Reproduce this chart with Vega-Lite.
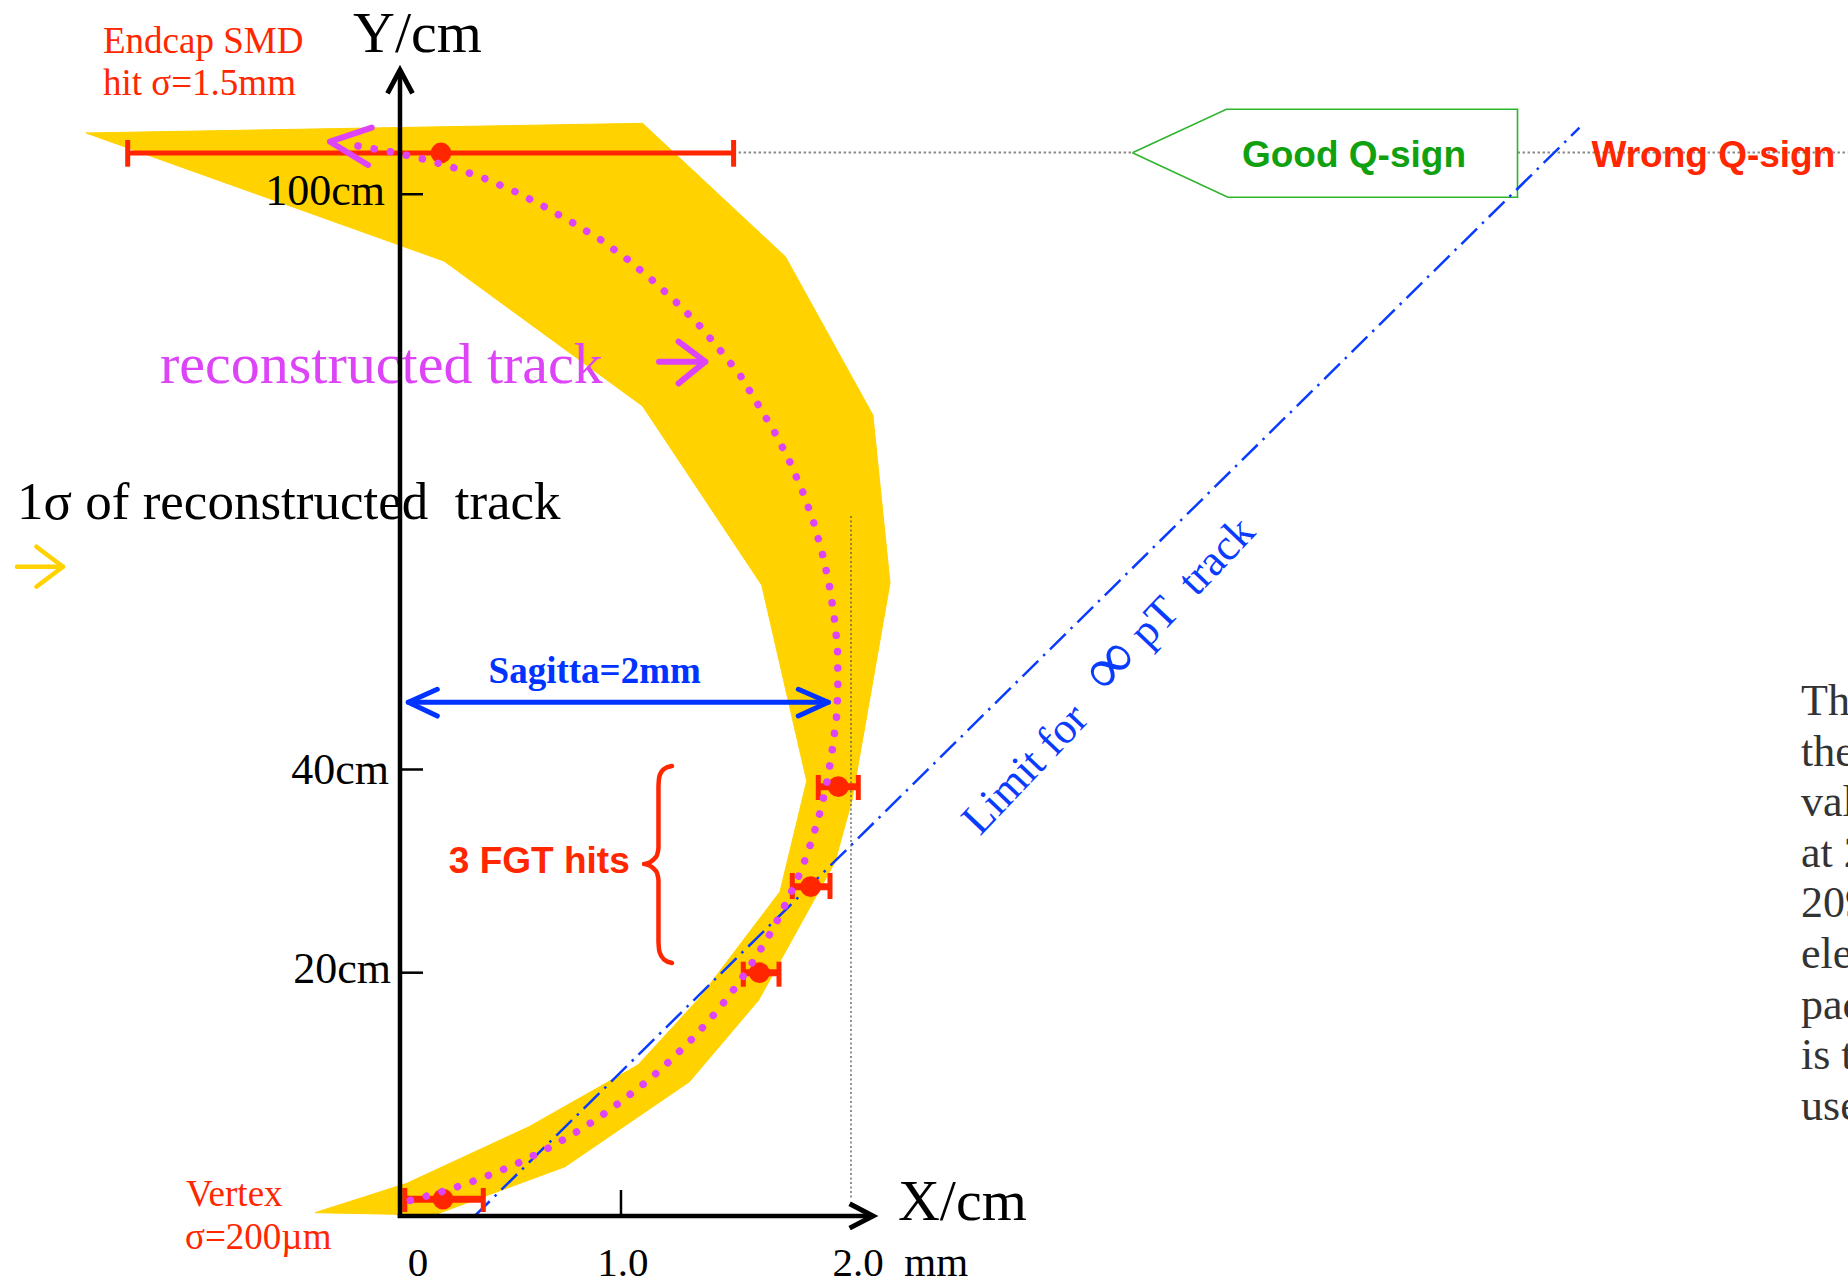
{
"$schema": "https://vega.github.io/schema/vega-lite/v6.json",
"width": 1848, "height": 1282,
"autosize": {"type": "none"},
"padding": 0,
"background": "white",
"config": {"view": {"stroke": null}},
"datasets": {
"band": [
{"i":1,"x":-1.3925,"y":102.67},{"i":2,"x":1.0754,"y":103.62},{"i":3,"x":1.7091,"y":90.50},{"i":4,"x":2.0971,"y":74.92},
{"i":5,"x":2.1730,"y":58.40},{"i":6,"x":2.0044,"y":37.05},{"i":7,"x":1.9291,"y":30.95},{"i":8,"x":1.5907,"y":17.37},
{"i":9,"x":1.2838,"y":9.34},{"i":10,"x":0.7317,"y":0.97},{"i":11,"x":0.1508,"y":-3.78},{"i":12,"x":-0.3769,"y":-3.55},
{"i":13,"x":0.0302,"y":-0.66},{"i":14,"x":0.5721,"y":4.91},{"i":15,"x":1.0554,"y":10.98},{"i":16,"x":1.3277,"y":17.57},
{"i":17,"x":1.6851,"y":28.03},{"i":18,"x":1.8036,"y":38.92},{"i":19,"x":1.6040,"y":58.20},{"i":20,"x":1.0754,"y":75.81},
{"i":21,"x":0.1951,"y":90.07},{"i":22,"x":-1.3925,"y":102.67}
],
"track": [
{"i":1,"x":-0.1863,"y":101.39},{"i":2,"x":-0.0355,"y":100.80},{"i":3,"x":0.1020,"y":100.11},{"i":4,"x":0.2439,"y":99.22},
{"i":5,"x":0.3814,"y":98.14},{"i":6,"x":0.5144,"y":96.86},{"i":7,"x":0.6430,"y":95.39},{"i":8,"x":0.7672,"y":93.81},
{"i":9,"x":0.8914,"y":92.14},{"i":10,"x":1.0067,"y":90.27},{"i":11,"x":1.1175,"y":88.21},{"i":12,"x":1.2240,"y":86.04},
{"i":13,"x":1.3259,"y":83.78},{"i":14,"x":1.4191,"y":81.32},{"i":15,"x":1.5078,"y":78.86},{"i":16,"x":1.5832,"y":76.11},
{"i":17,"x":1.6585,"y":73.35},{"i":18,"x":1.7251,"y":70.50},{"i":19,"x":1.7827,"y":67.55},{"i":20,"x":1.8315,"y":64.59},
{"i":21,"x":1.8714,"y":61.45},{"i":22,"x":1.9024,"y":58.40},{"i":23,"x":1.9246,"y":55.25},{"i":24,"x":1.9401,"y":52.10},
{"i":25,"x":1.9424,"y":48.85},{"i":26,"x":1.9379,"y":45.61},{"i":27,"x":1.9202,"y":42.46},{"i":28,"x":1.8980,"y":39.31},
{"i":29,"x":1.8670,"y":36.16},{"i":30,"x":1.8271,"y":33.11},{"i":31,"x":1.7783,"y":30.06},{"i":32,"x":1.7162,"y":27.11},
{"i":33,"x":1.6541,"y":24.36},{"i":34,"x":1.5787,"y":21.60},{"i":35,"x":1.4989,"y":18.95},{"i":36,"x":1.4102,"y":16.39},
{"i":37,"x":1.3126,"y":13.93},{"i":38,"x":1.2106,"y":11.67},{"i":39,"x":1.1087,"y":9.60},{"i":40,"x":0.9889,"y":7.54},
{"i":41,"x":0.8736,"y":5.67},{"i":42,"x":0.7539,"y":3.99},{"i":43,"x":0.6253,"y":2.42},{"i":44,"x":0.4967,"y":1.04},
{"i":45,"x":0.3636,"y":-0.14},{"i":46,"x":0.2262,"y":-1.22},{"i":47,"x":0.0887,"y":-2.11},{"i":48,"x":0.0177,"y":-2.50}
],
"paths": [
{"g":"yaxis","i":1,"x":0,"y":-4.07},{"g":"yaxis","i":2,"x":0,"y":108.6},
{"g":"yhead","i":1,"x":-0.0554,"y":106.57},{"g":"yhead","i":2,"x":0,"y":108.87},{"g":"yhead","i":3,"x":0.0554,"y":106.57},
{"g":"xaxis","i":1,"x":-0.01,"y":-3.876},{"g":"xaxis","i":2,"x":2.09,"y":-3.876},
{"g":"xhead","i":1,"x":1.9938,"y":-2.68},{"g":"xhead","i":2,"x":2.0976,"y":-3.876},{"g":"xhead","i":3,"x":1.9938,"y":-5.07},
{"g":"t100","i":1,"x":0,"y":96.64},{"g":"t100","i":2,"x":0.102,"y":96.64},
{"g":"t40","i":1,"x":0,"y":40.05},{"g":"t40","i":2,"x":0.102,"y":40.05},
{"g":"t20","i":1,"x":0,"y":20.06},{"g":"t20","i":2,"x":0.102,"y":20.06},
{"g":"t1","i":1,"x":0.98,"y":-1.318},{"g":"t1","i":2,"x":0.98,"y":-3.876},
{"g":"chev","i":1,"x":-0.1255,"y":103.19},{"g":"chev","i":2,"x":-0.3104,"y":101.81},{"g":"chev","i":3,"x":-0.1419,"y":99.52},
{"g":"sag","i":1,"x":0.0368,"y":46.66},{"g":"sag","i":2,"x":1.8993,"y":46.66},
{"g":"sagL","i":1,"x":0.1654,"y":47.94},{"g":"sagL","i":2,"x":0.0368,"y":46.66},{"g":"sagL","i":3,"x":0.1654,"y":45.31},
{"g":"sagR","i":1,"x":1.7663,"y":47.94},{"g":"sagR","i":2,"x":1.8993,"y":46.66},{"g":"sagR","i":3,"x":1.7663,"y":45.31},
{"g":"brace","i":1,"x":1.2062,"y":40.39},{"g":"brace","i":2,"x":1.1707,"y":40.10},{"g":"brace","i":3,"x":1.1508,"y":39.41},
{"g":"brace","i":4,"x":1.1463,"y":38.43},{"g":"brace","i":5,"x":1.1463,"y":32.33},{"g":"brace","i":6,"x":1.1353,"y":31.44},
{"g":"brace","i":7,"x":1.0820,"y":30.75},{"g":"brace","i":8,"x":1.1353,"y":30.06},{"g":"brace","i":9,"x":1.1463,"y":29.18},
{"g":"brace","i":10,"x":1.1463,"y":23.08},{"g":"brace","i":11,"x":1.1508,"y":22.10},{"g":"brace","i":12,"x":1.1707,"y":21.36},
{"g":"brace","i":13,"x":1.2062,"y":21.01},
{"g":"yarrS","i":1,"x":-1.6985,"y":60.00},{"g":"yarrS","i":2,"x":-1.4945,"y":60.00},
{"g":"yarrH","i":1,"x":-1.6124,"y":61.97},{"g":"yarrH","i":2,"x":-1.4945,"y":60.00},{"g":"yarrH","i":3,"x":-1.6124,"y":58.03},
{"g":"marrS","i":1,"x":1.1486,"y":80.17},{"g":"marrS","i":2,"x":1.3539,"y":80.17},
{"g":"marrH","i":1,"x":1.2355,"y":82.14},{"g":"marrH","i":2,"x":1.3539,"y":80.17},{"g":"marrH","i":3,"x":1.2355,"y":78.04},
{"g":"vdot","i":1,"x":2.0,"y":64.99},{"g":"vdot","i":2,"x":2.0,"y":-2.30},
{"g":"hdot1","i":1,"x":1.4794,"y":100.75},{"g":"hdot1","i":2,"x":3.2479,"y":100.75},
{"g":"hdot2","i":1,"x":4.9557,"y":100.75},{"g":"hdot2","i":2,"x":6.42,"y":100.75},
{"g":"limit","i":1,"x":0.3282,"y":-3.945},{"g":"limit","i":2,"x":5.2306,"y":103.19},
{"g":"box","i":1,"x":3.2479,"y":100.73},{"g":"box","i":2,"x":3.6648,"y":105.00},{"g":"box","i":3,"x":4.9557,"y":105.00},
{"g":"box","i":4,"x":4.9557,"y":96.34},{"g":"box","i":5,"x":3.6714,"y":96.34},{"g":"box","i":6,"x":3.2479,"y":100.73}
],
"hits": [
{"h":"smd","x":0.1818,"y":100.70,"xlo":-1.2075,"xhi":1.4794,"ylo":99.35,"yhi":101.98},
{"h":"fgt1","x":1.9437,"y":38.36,"xlo":1.8550,"xhi":2.0324,"ylo":37.05,"yhi":39.51},
{"h":"fgt2","x":1.8213,"y":28.52,"xlo":1.7397,"xhi":1.9069,"ylo":27.31,"yhi":29.87},
{"h":"fgt3","x":1.5934,"y":20.06,"xlo":1.5224,"xhi":1.6807,"ylo":18.68,"yhi":21.14},
{"h":"vtx","x":0.1907,"y":-2.22,"xlo":0.0213,"xhi":0.3694,"ylo":-3.483,"yhi":-1.121}
],
"labels": [
{"k":"title","t":"Y/cm","x":-0.2084,"y":110.67},
{"k":"title","t":"X/cm","x":2.2084,"y":-4.27},
{"k":"red","t":"Endcap SMD","x":-1.3171,"y":110.54},
{"k":"red","t":"hit σ=1.5mm","x":-1.3171,"y":106.41},
{"k":"red","t":"Vertex","x":-0.949,"y":-2.892},
{"k":"red","t":"σ=200µm","x":-0.9534,"y":-7.152},
{"k":"ytick","t":"100cm","x":-0.0665,"y":95.58},
{"k":"ytick","t":"40cm","x":-0.0488,"y":38.62},
{"k":"ytick","t":"20cm","x":-0.0399,"y":19.02},
{"k":"xtickc","t":"0","x":0.0798,"y":-9.75},
{"k":"xtickc","t":"1.0","x":0.9889,"y":-9.75},
{"k":"xtickl","t":"2.0\u00a0\u00a0mm","x":1.9184,"y":-9.75},
{"k":"recon","t":"reconstructed track","x":-1.0643,"y":78.10},
{"k":"sigma","t":"1σ of reconstructed\u00a0\u00a0track","x":-1.6985,"y":64.69},
{"k":"sag","t":"Sagitta=2mm","x":0.8634,"y":48.59},
{"k":"fgt","t":"3 FGT hits","x":0.6177,"y":29.84},
{"k":"good","t":"Good Q-sign","x":4.2306,"y":99.35},
{"k":"wrong","t":"Wrong Q-sign","x":5.2834,"y":99.35},
{"k":"limit","t":"Limit for","x":2.5721,"y":33.44},
{"k":"inf","t":"∞","x":3.1500,"y":50.3},
{"k":"limit","t":"pT\u00a0\u00a0track","x":3.3150,"y":51.9},
{"k":"para","t":"Th","x":6.2129,"y":45.41},
{"k":"para","t":"the","x":6.2129,"y":40.43},
{"k":"para","t":"val","x":6.2129,"y":35.46},
{"k":"para","t":"at 2","x":6.2129,"y":30.48},
{"k":"para","t":"209","x":6.2129,"y":25.50},
{"k":"para","t":"ele","x":6.2129,"y":20.52},
{"k":"para","t":"pac","x":6.2129,"y":15.54},
{"k":"para","t":"is t","x":6.2129,"y":10.57},
{"k":"para","t":"use","x":6.2129,"y":5.59}
]
},
"encoding": {
"x": {"field": "x", "type": "quantitative", "scale": {"domain": [-1.7738, 6.4213], "nice": false, "zero": false}, "axis": null},
"y": {"field": "y", "type": "quantitative", "scale": {"domain": [-10.369, 115.75], "nice": false, "zero": false}, "axis": null}
},
"layer": [
{"data": {"name": "band"}, "mark": {"type": "line", "fill": "#FFD200", "stroke": "#FFD200", "strokeWidth": 1}, "encoding": {"order": {"field": "i"}}},
{"data": {"name": "paths"}, "transform": [{"filter": "datum.g == 'vdot'"}], "mark": {"type": "line", "stroke": "#555555", "strokeWidth": 1.3, "strokeDash": [2, 2.5]}, "encoding": {"order": {"field": "i"}, "detail": {"field": "g"}}},
{"data": {"name": "paths"}, "transform": [{"filter": "datum.g == 'hdot1' || datum.g == 'hdot2'"}], "mark": {"type": "line", "stroke": "#8a8a8a", "strokeWidth": 2, "strokeDash": [2.5, 2.5]}, "encoding": {"order": {"field": "i"}, "detail": {"field": "g"}}},
{"data": {"name": "paths"}, "transform": [{"filter": "datum.g == 'box'"}], "mark": {"type": "line", "fill": "white", "stroke": "#2DB52D", "strokeWidth": 1.6}, "encoding": {"order": {"field": "i"}}},
{"data": {"name": "paths"}, "transform": [{"filter": "datum.g == 'limit'"}], "mark": {"type": "line", "stroke": "#0A3CFF", "strokeWidth": 2.5, "strokeDash": [22, 7, 2.5, 7]}, "encoding": {"order": {"field": "i"}}},
{"data": {"name": "labels"}, "transform": [{"filter": "datum.k == 'recon'"}], "mark": {"type": "text", "align": "left", "baseline": "alphabetic", "font": "Liberation Serif", "fontSize": 58, "color": "#DD44F7"}, "encoding": {"text": {"field": "t"}}},
{"data": {"name": "labels"}, "transform": [{"filter": "datum.k == 'sigma'"}], "mark": {"type": "text", "align": "left", "baseline": "alphabetic", "font": "Liberation Serif", "fontSize": 53, "color": "black"}, "encoding": {"text": {"field": "t"}}},
{"data": {"name": "hits"}, "transform": [{"filter": "datum.h == 'smd'"}], "mark": {"type": "rule", "color": "#FF2600", "strokeWidth": 5}, "encoding": {"x": {"field": "xlo", "type": "quantitative", "scale": {"domain": [-1.7738, 6.4213], "nice": false, "zero": false}, "axis": null}, "x2": {"field": "xhi"}}},
{"data": {"name": "hits"}, "transform": [{"filter": "datum.h != 'smd'"}], "mark": {"type": "rule", "color": "#FF2600", "strokeWidth": 7}, "encoding": {"x": {"field": "xlo", "type": "quantitative", "scale": {"domain": [-1.7738, 6.4213], "nice": false, "zero": false}, "axis": null}, "x2": {"field": "xhi"}}},
{"data": {"name": "hits"}, "mark": {"type": "rule", "color": "#FF2600", "strokeWidth": 5}, "encoding": {"x": {"field": "xlo", "type": "quantitative", "scale": {"domain": [-1.7738, 6.4213], "nice": false, "zero": false}, "axis": null}, "y": {"field": "ylo", "type": "quantitative", "scale": {"domain": [-10.369, 115.75], "nice": false, "zero": false}, "axis": null}, "y2": {"field": "yhi"}}},
{"data": {"name": "hits"}, "mark": {"type": "rule", "color": "#FF2600", "strokeWidth": 5}, "encoding": {"x": {"field": "xhi", "type": "quantitative", "scale": {"domain": [-1.7738, 6.4213], "nice": false, "zero": false}, "axis": null}, "y": {"field": "ylo", "type": "quantitative", "scale": {"domain": [-10.369, 115.75], "nice": false, "zero": false}, "axis": null}, "y2": {"field": "yhi"}}},
{"data": {"name": "hits"}, "mark": {"type": "point", "filled": true, "shape": "circle", "size": 430, "color": "#FF2600", "opacity": 1}},
{"data": {"name": "track"}, "mark": {"type": "line", "stroke": "#DD44F7", "strokeWidth": 7.5, "strokeCap": "round", "strokeDash": [0.1, 16.3]}, "encoding": {"order": {"field": "i"}}},
{"data": {"name": "paths"}, "transform": [{"filter": "datum.g == 'chev' || datum.g == 'marrS' || datum.g == 'marrH'"}], "mark": {"type": "line", "stroke": "#DD44F7", "strokeWidth": 6, "strokeCap": "round", "strokeJoin": "round"}, "encoding": {"order": {"field": "i"}, "detail": {"field": "g"}}},
{"data": {"name": "paths"}, "transform": [{"filter": "datum.g == 'yarrS' || datum.g == 'yarrH'"}], "mark": {"type": "line", "stroke": "#FFD200", "strokeWidth": 4.5, "strokeCap": "round", "strokeJoin": "round"}, "encoding": {"order": {"field": "i"}, "detail": {"field": "g"}}},
{"data": {"name": "paths"}, "transform": [{"filter": "datum.g == 'sag' || datum.g == 'sagL' || datum.g == 'sagR'"}], "mark": {"type": "line", "stroke": "#0033FF", "strokeWidth": 5, "strokeCap": "round", "strokeJoin": "round"}, "encoding": {"order": {"field": "i"}, "detail": {"field": "g"}}},
{"data": {"name": "paths"}, "transform": [{"filter": "datum.g == 'brace'"}], "mark": {"type": "line", "stroke": "#FF2600", "strokeWidth": 4.5, "strokeCap": "round", "strokeJoin": "round", "interpolate": "monotone"}, "encoding": {"order": {"field": "i"}}},
{"data": {"name": "paths"}, "transform": [{"filter": "datum.g == 'yaxis' || datum.g == 'xaxis'"}], "mark": {"type": "line", "stroke": "black", "strokeWidth": 4.5}, "encoding": {"order": {"field": "i"}, "detail": {"field": "g"}}},
{"data": {"name": "paths"}, "transform": [{"filter": "datum.g == 'yhead' || datum.g == 'xhead'"}], "mark": {"type": "line", "stroke": "black", "strokeWidth": 5, "strokeJoin": "miter"}, "encoding": {"order": {"field": "i"}, "detail": {"field": "g"}}},
{"data": {"name": "paths"}, "transform": [{"filter": "datum.g == 't100' || datum.g == 't40' || datum.g == 't20' || datum.g == 't1'"}], "mark": {"type": "line", "stroke": "black", "strokeWidth": 2.5}, "encoding": {"order": {"field": "i"}, "detail": {"field": "g"}}},
{"data": {"name": "labels"}, "transform": [{"filter": "datum.k == 'title'"}], "mark": {"type": "text", "align": "left", "baseline": "alphabetic", "font": "Liberation Serif", "fontSize": 58, "color": "black"}, "encoding": {"text": {"field": "t"}}},
{"data": {"name": "labels"}, "transform": [{"filter": "datum.k == 'red'"}], "mark": {"type": "text", "align": "left", "baseline": "alphabetic", "font": "Liberation Serif", "fontSize": 37, "color": "#FF2600"}, "encoding": {"text": {"field": "t"}}},
{"data": {"name": "labels"}, "transform": [{"filter": "datum.k == 'ytick'"}], "mark": {"type": "text", "align": "right", "baseline": "alphabetic", "font": "Liberation Serif", "fontSize": 44, "color": "black"}, "encoding": {"text": {"field": "t"}}},
{"data": {"name": "labels"}, "transform": [{"filter": "datum.k == 'xtickc'"}], "mark": {"type": "text", "align": "center", "baseline": "alphabetic", "font": "Liberation Serif", "fontSize": 41, "color": "black"}, "encoding": {"text": {"field": "t"}}},
{"data": {"name": "labels"}, "transform": [{"filter": "datum.k == 'xtickl'"}], "mark": {"type": "text", "align": "left", "baseline": "alphabetic", "font": "Liberation Serif", "fontSize": 41, "color": "black"}, "encoding": {"text": {"field": "t"}}},
{"data": {"name": "labels"}, "transform": [{"filter": "datum.k == 'sag'"}], "mark": {"type": "text", "align": "center", "baseline": "alphabetic", "font": "Liberation Serif", "fontWeight": "bold", "fontSize": 37, "color": "#0033FF"}, "encoding": {"text": {"field": "t"}}},
{"data": {"name": "labels"}, "transform": [{"filter": "datum.k == 'fgt'"}], "mark": {"type": "text", "align": "center", "baseline": "alphabetic", "font": "Liberation Sans", "fontWeight": "bold", "fontSize": 37, "color": "#FF2600"}, "encoding": {"text": {"field": "t"}}},
{"data": {"name": "labels"}, "transform": [{"filter": "datum.k == 'good'"}], "mark": {"type": "text", "align": "center", "baseline": "alphabetic", "font": "Liberation Sans", "fontWeight": "bold", "fontSize": 37, "color": "#10A010"}, "encoding": {"text": {"field": "t"}}},
{"data": {"name": "labels"}, "transform": [{"filter": "datum.k == 'wrong'"}], "mark": {"type": "text", "align": "left", "baseline": "alphabetic", "font": "Liberation Sans", "fontWeight": "bold", "fontSize": 37, "color": "#FF2600"}, "encoding": {"text": {"field": "t"}}},
{"data": {"name": "labels"}, "transform": [{"filter": "datum.k == 'limit'"}], "mark": {"type": "text", "align": "left", "baseline": "alphabetic", "angle": 313.5, "font": "Liberation Serif", "fontSize": 44, "color": "#0A3CFF"}, "encoding": {"text": {"field": "t"}}},
{"data": {"name": "labels"}, "transform": [{"filter": "datum.k == 'inf'"}], "mark": {"type": "text", "align": "center", "baseline": "middle", "angle": 313.5, "font": "Liberation Serif", "fontSize": 68, "color": "#0A3CFF"}, "encoding": {"text": {"field": "t"}}},
{"data": {"name": "labels"}, "transform": [{"filter": "datum.k == 'para'"}], "mark": {"type": "text", "align": "left", "baseline": "alphabetic", "font": "Liberation Serif", "fontSize": 44, "color": "#333333"}, "encoding": {"text": {"field": "t"}}}
]
}
